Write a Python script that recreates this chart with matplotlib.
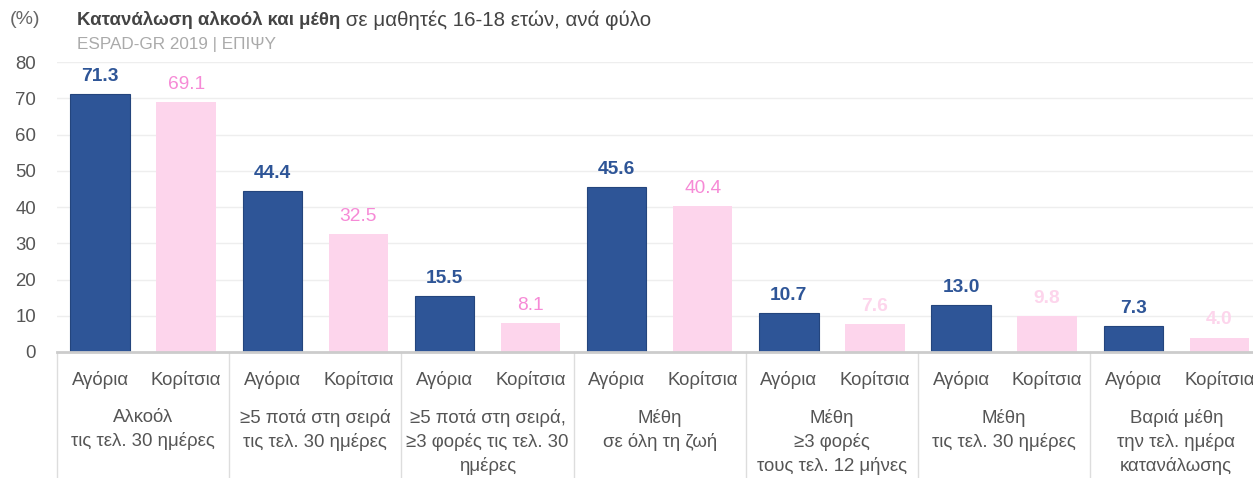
import matplotlib
matplotlib.use("Agg")
import matplotlib.pyplot as plt
import matplotlib.transforms as mtransforms
import numpy as np

# ---- data ----
groups = [
    "Αλκοόλ\nτις τελ. 30 ημέρες",
    "≥5 ποτά στη σειρά\nτις τελ. 30 ημέρες",
    "≥5 ποτά στη σειρά,\n≥3 φορές τις τελ. 30\nημέρες",
    "Μέθη\nσε όλη τη ζωή",
    "Μέθη\n≥3 φορές\nτους τελ. 12 μήνες",
    "Μέθη\nτις τελ. 30 ημέρες",
    "Βαριά μέθη\nτην τελ. ημέρα\nκατανάλωσης",
]
series_names = ["Αγόρια", "Κορίτσια"]
boys = [71.3, 44.4, 15.5, 45.6, 10.7, 13.0, 7.3]
girls = [69.1, 32.5, 8.1, 40.4, 7.6, 9.8, 4.0]
yticks = [0, 10, 20, 30, 40, 50, 60, 70, 80]

title_bold = "Κατανάλωση αλκοόλ και μέθη"
title_rest = " σε μαθητές 16-18 ετών, ανά φύλο"
subtitle = "ESPAD-GR 2019 | ΕΠΙΨΥ"
unit = "(%)"

# ---- style ----
plt.rcParams["font.family"] = ["Liberation Sans", "DejaVu Sans"]
BLUE = "#2E5597"
BLUE_EDGE = "#24457D"
PINK = "#FDD5EC"
PINK_TXT = "#F68AD6"
GREY_TXT = "#555555"
FS = 13.4

W, H = 1253, 478
fig = plt.figure(figsize=(W / 100, H / 100), dpi=100)
left_px, right_px = 57, 57 + 7 * 172.2
top_px, bot_px = 62, 352
ax = fig.add_axes([left_px / W, 1 - bot_px / H, (right_px - left_px) / W, (bot_px - top_px) / H])

n = len(groups)
x = np.arange(n)
off = 0.25
bw = 0.345
ax.bar(x - off, boys, width=bw, color=BLUE, edgecolor=BLUE_EDGE, linewidth=0.8, zorder=3)
ax.bar(x + off, girls, width=bw, color=PINK, edgecolor="none", zorder=3)

ax.set_xlim(-0.5, n - 0.5)
ax.set_ylim(0, 80)
ax.set_yticks(yticks)
ax.set_yticklabels([str(v) for v in yticks], fontsize=FS, color=GREY_TXT)
ax.tick_params(axis="y", length=0, pad=15)
ax.set_xticks([])
ax.grid(axis="y", color="#EEEEEE", linewidth=1, zorder=0)
for s in ["top", "right", "left"]:
    ax.spines[s].set_visible(False)
ax.spines["bottom"].set_color("#CCCCCC")
ax.spines["bottom"].set_linewidth(2)
ax.spines["bottom"].set_zorder(4)

# value labels
light_label = [False, False, False, False, True, True, True]
for i in range(n):
    ax.annotate(f"{boys[i]:.1f}", xy=(x[i] - off, boys[i]), xytext=(0, 9),
                textcoords="offset pixels", ha="center", va="bottom",
                fontsize=13.8, fontweight="bold", color=BLUE)
    if light_label[i]:
        ax.annotate(f"{girls[i]:.1f}", xy=(x[i] + off, girls[i]), xytext=(0, 9),
                    textcoords="offset pixels", ha="center", va="bottom",
                    fontsize=13.8, fontweight="bold", color=PINK)
    else:
        ax.annotate(f"{girls[i]:.1f}", xy=(x[i] + off, girls[i]), xytext=(0, 9),
                    textcoords="offset pixels", ha="center", va="bottom",
                    fontsize=13.8, color=PINK_TXT)

# bottom category table
trans = mtransforms.blended_transform_factory(ax.transData, ax.transAxes)
axh = bot_px - top_px
for i in range(n + 1):
    xb = i - 0.5
    ax.plot([xb, xb], [0, -(H - bot_px) / axh], transform=trans, color="#DDDDDD",
            linewidth=1, clip_on=False, zorder=1)
for i in range(n):
    for j, dx in enumerate([-off, off]):
        ax.annotate(series_names[j], xy=(x[i] + dx, 0), xycoords=trans,
                    xytext=(0, -(380 - bot_px)), textcoords="offset pixels",
                    ha="center", va="center", fontsize=FS, color=GREY_TXT,
                    annotation_clip=False)
    ax.annotate(groups[i], xy=(x[i], 0), xycoords=trans,
                xytext=(0, -(409 - bot_px)), textcoords="offset pixels",
                ha="center", va="top", fontsize=FS, color=GREY_TXT,
                linespacing=1.42, annotation_clip=False)

# titles
fig.text(10 / W, 1 - 20 / H, unit, fontsize=14, color="#666666", va="center", ha="left")
tb = fig.text(77 / W, 1 - 20 / H, title_bold, fontsize=13.4, fontweight="bold",
              color="#444444", va="center", ha="left")
fig.canvas.draw()
bb = tb.get_window_extent()
fig.text(bb.x1 / W, 1 - 20 / H, title_rest, fontsize=14.8, color="#444444",
         va="center", ha="left")
fig.text(77 / W, 1 - 45 / H, subtitle, fontsize=12.3, color="#AAAAAA", va="center", ha="left")

fig.savefig("out.png", dpi=100)
